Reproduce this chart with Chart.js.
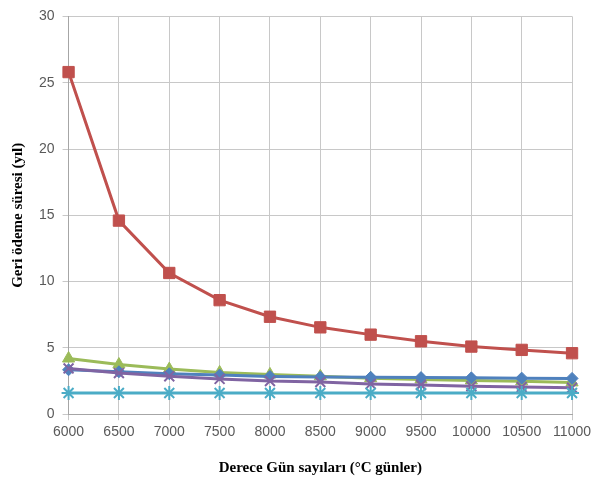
<!DOCTYPE html>
<html>
<head>
<meta charset="utf-8">
<script src="https://cdn.jsdelivr.net/npm/chart.js@4/dist/chart.umd.min.js"></script>
<style>
  html, body { margin: 0; padding: 0; background: #fff; }
  #wrap { width: 595px; height: 478px; }
</style>
</head>
<body>
<div id="wrap"><canvas id="chart_payback"></canvas></div>
<script>
// derece gün değerleri ve geri ödeme süreleri (yıl)
var dereceGun = ['6000', '6500', '7000', '7500', '8000', '8500', '9000', '9500', '10000', '10500', '11000'];
var seri1 = [3.35, 3.2, 3.05, 2.95, 2.85, 2.8, 2.78, 2.76, 2.74, 2.72, 2.7];
var seri2 = [25.8, 14.6, 10.65, 8.6, 7.35, 6.55, 6.0, 5.5, 5.1, 4.85, 4.6];
var seri3 = [4.2, 3.75, 3.4, 3.15, 3.0, 2.86, 2.72, 2.62, 2.55, 2.48, 2.4];
var seri4 = [3.45, 3.1, 2.86, 2.66, 2.5, 2.43, 2.28, 2.2, 2.1, 2.05, 2.0];
var seri5 = [1.6, 1.6, 1.6, 1.6, 1.6, 1.6, 1.6, 1.6, 1.6, 1.6, 1.6];

function seri(data, color, style, radius) {
    return {
        data: data,
        borderColor: color,
        backgroundColor: color,
        borderWidth: 3,
        pointStyle: style,
        pointRadius: radius,
        pointBorderWidth: style === 'star' || style === 'crossRot' ? 2 : 1,
        tension: 0
    };
}

var ctx = document.getElementById('chart_payback').getContext('2d');
var chart = new Chart(ctx, {
    type: 'line',
    data: {
        labels: dereceGun,
        datasets: [
            seri(seri5, '#4BACC6', 'star', 7),
            seri(seri4, '#8064A2', 'crossRot', 7),
            seri(seri1, '#4F81BD', 'rectRot', 6),
            seri(seri3, '#9BBB59', 'triangle', 7),
            seri(seri2, '#C0504D', 'rect', 8)
        ]
    },
    options: {
        responsive: true,
        maintainAspectRatio: false,
        animation: false,
        layout: { padding: { top: 9, right: 6, left: 5, bottom: 0 } },
        plugins: {
            legend: { display: false },
            tooltip: { enabled: false }
        },
        scales: {
            x: {
                offset: false,
                grid: { color: '#c8c8c8', lineWidth: 1, tickLength: 6 },
                border: { color: '#a6a6a6' },
                ticks: { color: '#595959', font: { family: 'Liberation Sans', size: 14 }, maxRotation: 0, padding: 4 },
                title: {
                    display: true,
                    text: 'Derece Gün sayıları (°C günler)',
                    color: '#000',
                    font: { family: 'Liberation Serif', size: 15, weight: 'bold' },
                    padding: { top: 14, bottom: 1 }
                }
            },
            y: {
                min: 0,
                max: 30,
                grid: { color: '#c8c8c8', lineWidth: 1, tickLength: 6 },
                border: { color: '#a6a6a6' },
                ticks: { stepSize: 5, color: '#595959', font: { family: 'Liberation Sans', size: 14 }, padding: 8 },
                title: {
                    display: true,
                    text: 'Geri ödeme süresi (yıl)',
                    color: '#000',
                    font: { family: 'Liberation Serif', size: 15, weight: 'bold' },
                    padding: { bottom: 4 }
                }
            }
        }
    }
});
</script>
</body>
</html>
